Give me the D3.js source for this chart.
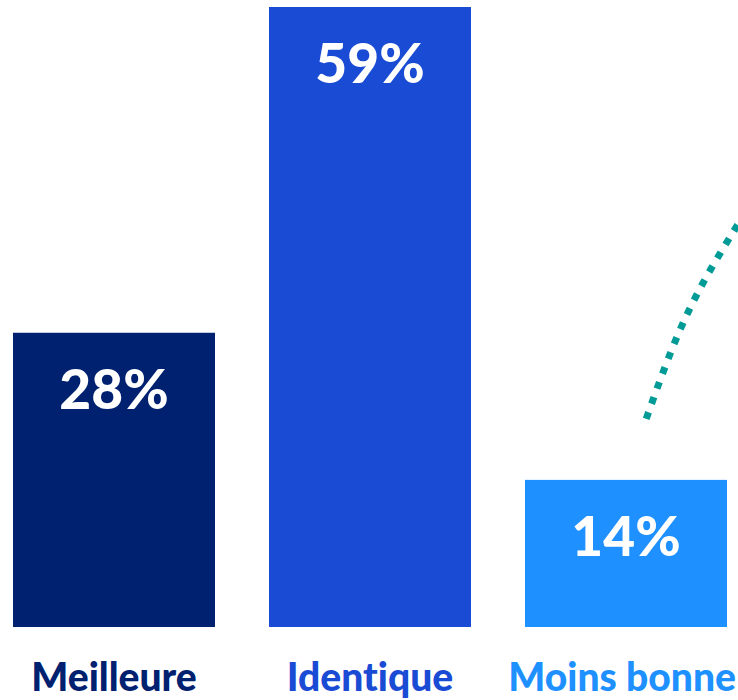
<!DOCTYPE html>
<html>
<head>
<meta charset="utf-8">
<script src="https://cdn.jsdelivr.net/npm/d3@7"></script>
<style>
  body { margin: 0; background: #fff; }
  svg { display: block; font-family: Lato, "Noto Sans", sans-serif; font-variant-ligatures: none; }
</style>
</head>
<body>
<svg id="chart"></svg>
<script>
// data
let categories = ["Meilleure", "Identique", "Moins bonne"];
let values = [28, 59, 14];
let colors = ["#002070", "#1a4bd4", "#1e90ff"];

let width = 738;
let height = 700;
let baseline = 627;

let svg = d3.select("#chart")
    .attr("width", width)
    .attr("height", height);

// bars ~202px wide with ~54px gaps
let x = d3.scaleBand()
    .domain(categories)
    .range([13, 13 + 202 * 3 + 54 * 2])
    .paddingInner(54 / 256)
    .paddingOuter(0);

let y = d3.scaleLinear()
    .domain([0, 59])
    .range([baseline, 7]);

let bars = svg.append("g").attr("class", "bars");

bars.selectAll("rect")
    .data(categories)
    .join("rect")
    .attr("x", d => x(d))
    .attr("y", (d, i) => y(values[i]))
    .attr("width", x.bandwidth())
    .attr("height", (d, i) => baseline - y(values[i]))
    .attr("fill", (d, i) => colors[i]);

// value labels inside the bars
bars.selectAll("text.value")
    .data(categories)
    .join("text")
    .attr("class", "value")
    .attr("x", d => x(d) + x.bandwidth() / 2)
    .attr("y", (d, i) => y(values[i]) + 76)
    .attr("text-anchor", "middle")
    .attr("font-size", "55px")
    .attr("font-weight", 900)
    .attr("fill", "#fff")
    .text((d, i) => values[i] + "%");

// category labels under the bars, kept inside the right edge
svg.append("g")
    .selectAll("text")
    .data(categories)
    .join("text")
    .attr("y", 691)
    .attr("text-anchor", "middle")
    .attr("font-size", "39px")
    .attr("font-weight", 900)
    .attr("fill", (d, i) => colors[i])
    .text(d => d)
    .attr("x", function (d) {
        let cx = x(d) + x.bandwidth() / 2;
        let half = this.getComputedTextLength() / 2;
        return Math.min(cx, width - 2 - half);
    });

// dotted decorative curve above the last bar
let last = categories[2];
let cx0 = x(last) + x.bandwidth() * 0.6;
let curvePts = [
    [cx0, y(values[2]) - 61],
    [cx0 + 42, y(values[2]) - 168],
    [width + 4, y(values[2]) - 262]
];

svg.append("path")
    .attr("d", d3.line().curve(d3.curveNatural)(curvePts))
    .attr("fill", "none")
    .attr("stroke", "#009b96")
    .attr("stroke-width", 7)
    .attr("stroke-dasharray", "7 9");
</script>
</body>
</html>
